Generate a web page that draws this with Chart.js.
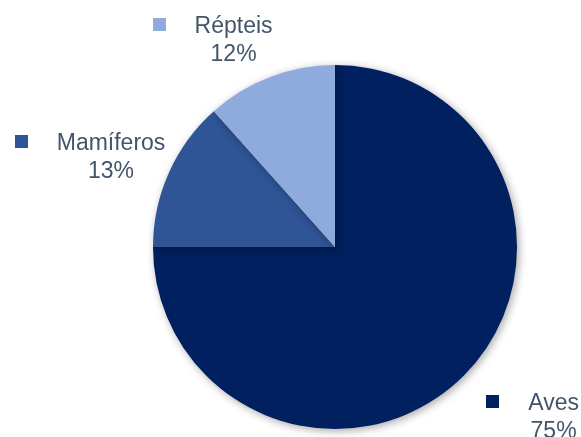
<!DOCTYPE html>
<html>
<head>
<meta charset="utf-8">
<script src="https://cdn.jsdelivr.net/npm/chart.js@4/dist/chart.umd.min.js"></script>
<style>
  html, body { margin: 0; padding: 0; background: #fff; }
  #wrap { width: 581px; height: 437px; }
</style>
</head>
<body>
<div id="wrap"><canvas id="chart"></canvas></div>
<script>
// chart data
const categories = ['Aves', 'Mamíferos', 'Répteis'];
const values = [75, 13.4, 11.6];
const percentLabels = ['75%', '13%', '12%'];
const sliceColors = ['#002060', '#2f5597', '#8faadc'];

// where each label sits: angle offset (deg) and distance as a multiple of radius
const labelPlace = [
  { da: -8.3, k: 1.498 },
  { da: -0.7, k: 1.341 },
  { da: -4.5, k: 1.30 }
];

const labelPlugin = {
  id: 'pieLabels',
  afterDatasetsDraw(chart) {
    const ctx = chart.ctx;
    const arcs = chart.getDatasetMeta(0).data;
    ctx.save();
    ctx.font = '23px "Liberation Sans", Arial, sans-serif';
    ctx.textAlign = 'center';
    ctx.textBaseline = 'alphabetic';
    arcs.forEach((arc, i) => {
      const p = arc.getProps(['x', 'y', 'startAngle', 'endAngle', 'outerRadius']);
      const mid = (p.startAngle + p.endAngle) / 2 + labelPlace[i].da * Math.PI / 180;
      const r = p.outerRadius * labelPlace[i].k;
      const cx = p.x + Math.cos(mid) * r;
      const cy = p.y + Math.sin(mid) * r; // baseline of the name line
      const nameW = ctx.measureText(categories[i]).width;
      ctx.fillStyle = '#44546a';
      ctx.fillText(categories[i], cx, cy);
      ctx.fillText(percentLabels[i], cx, cy + 28);
      // legend key square
      ctx.fillStyle = sliceColors[i];
      ctx.fillRect(Math.round(cx - nameW / 2 - 42), Math.round(cy - 15), 13, 13);
    });
    ctx.restore();
  }
};

const shadowPlugin = {
  id: 'pieShadow',
  beforeDatasetsDraw(chart) {
    const ctx = chart.ctx;
    ctx.save();
    ctx.shadowColor = 'rgba(0,0,0,0.35)';
    ctx.shadowBlur = 8;
    ctx.shadowOffsetX = 2;
    ctx.shadowOffsetY = 2;
  },
  afterDatasetsDraw(chart) {
    chart.ctx.restore();
  }
};

new Chart(document.getElementById('chart'), {
  type: 'pie',
  data: {
    labels: categories,
    datasets: [{
      data: values,
      backgroundColor: sliceColors,
      borderWidth: 0
    }]
  },
  options: {
    responsive: true,
    maintainAspectRatio: false,
    animation: false,
    layout: { padding: { left: 153, right: 64, top: 65, bottom: 8 } },
    plugins: {
      legend: { display: false },
      tooltip: { enabled: false }
    }
  },
  plugins: [shadowPlugin, labelPlugin]
});
</script>
</body>
</html>
